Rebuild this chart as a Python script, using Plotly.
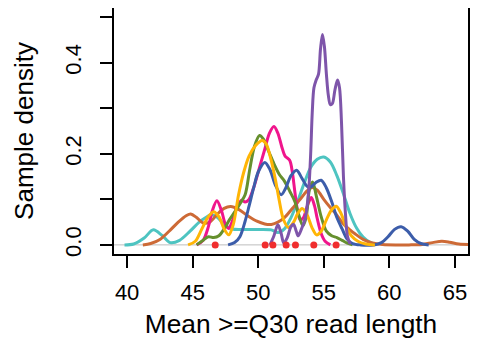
import plotly.graph_objects as go

# ---- data ----
cyan_x = [39.8, 40.5, 41.3, 42.0, 42.7, 43.3, 44.0, 44.8, 45.5, 46.0, 46.4, 46.9, 47.4, 48.0, 49.0, 50.0, 51.0, 51.5, 52.0, 52.5, 53.0, 53.5, 54.0, 54.5, 55.0, 55.5, 56.0, 56.5, 57.0, 57.5, 58.0, 58.5, 59.0]
cyan_y = [0.0, 0.002, 0.015, 0.033, 0.02, 0.005, 0.01, 0.03, 0.05, 0.06, 0.066, 0.06, 0.045, 0.035, 0.034, 0.034, 0.033, 0.027, 0.035, 0.06, 0.095, 0.135, 0.17, 0.188, 0.193, 0.182, 0.152, 0.112, 0.069, 0.037, 0.017, 0.006, 0.001]

brown_x = [41.2, 41.8, 42.5, 43.2, 43.9, 44.5, 44.85, 45.3, 45.8, 46.3, 46.9, 47.4, 47.9, 48.5, 49.2, 49.9, 50.5, 51.0, 51.5, 52.0, 52.6, 53.2, 53.7, 54.1, 54.5, 55.0, 55.5, 55.9, 56.5, 57.0, 57.4, 58.0, 58.7, 59.5, 60.5, 61.5, 62.5, 63.3, 64.0, 64.6, 65.3, 66.2]
brown_y = [0.0, 0.003, 0.012, 0.03, 0.05, 0.064, 0.068, 0.06, 0.048, 0.05, 0.068, 0.08, 0.084, 0.078, 0.064, 0.052, 0.046, 0.045, 0.05, 0.06, 0.08, 0.1, 0.118, 0.126, 0.12, 0.1, 0.082, 0.069, 0.046, 0.033, 0.024, 0.012, 0.004, 0.001, 0.0, 0.0, 0.001, 0.005, 0.008, 0.006, 0.002, 0.001]

pink_x = [45.3, 45.8, 46.2, 46.5, 46.85, 47.2, 47.5, 47.75, 48.0, 48.4, 48.75, 49.0, 49.3, 49.7, 50.1, 50.5, 50.85, 51.2, 51.5, 51.8, 52.05, 52.4, 52.6, 52.8, 53.0, 53.2, 53.45, 53.8, 54.05, 54.3, 54.5, 54.8, 55.1, 55.5]
pink_y = [0.0, 0.01, 0.04, 0.075, 0.097, 0.075, 0.045, 0.036, 0.05, 0.085, 0.098, 0.094, 0.1, 0.13, 0.17, 0.21, 0.245, 0.26, 0.245, 0.215, 0.195, 0.186, 0.16, 0.115, 0.075, 0.055, 0.06, 0.09, 0.104, 0.085, 0.058, 0.025, 0.008, 0.0]

green_x = [45.3, 45.8, 46.2, 46.6, 47.0, 47.4, 47.8, 48.2, 48.6, 49.0, 49.35, 49.7, 50.1, 50.4, 50.8, 51.2, 51.6, 52.0, 52.4, 52.8, 53.1, 53.4, 53.65, 53.9, 54.15, 54.45, 54.8, 55.2, 55.6, 56.0, 56.4, 56.8, 57.2]
green_y = [0.0, 0.01, 0.018, 0.016, 0.02, 0.035, 0.055, 0.072, 0.09, 0.11, 0.165, 0.215, 0.24, 0.232, 0.205, 0.178, 0.155, 0.14, 0.118, 0.095, 0.065, 0.042, 0.06, 0.12, 0.138, 0.105, 0.062, 0.03, 0.02, 0.016, 0.01, 0.004, 0.0]

yellow_x = [44.65, 45.2, 45.7, 46.2, 46.6, 47.0, 47.4, 47.75, 48.1, 48.5, 48.9, 49.3, 49.8, 50.3, 50.6, 50.95, 51.3, 51.6, 51.9, 52.3, 52.7, 53.0, 53.35, 53.7, 54.1, 54.45, 54.8, 55.2, 55.6, 55.95, 56.3, 56.7, 57.1, 57.6, 58.2, 58.9]
yellow_y = [0.0, 0.008, 0.035, 0.062, 0.073, 0.062, 0.035, 0.022, 0.045, 0.11, 0.16, 0.195, 0.218, 0.229, 0.222, 0.19, 0.145, 0.098, 0.058, 0.038, 0.05, 0.068, 0.08, 0.068, 0.038, 0.022, 0.03, 0.055, 0.077, 0.085, 0.07, 0.04, 0.02, 0.008, 0.002, 0.0]

blue_x = [47.7, 48.2, 48.6, 49.0, 49.3, 49.65, 50.0, 50.5, 50.9, 51.3, 51.75, 52.1, 52.5, 52.93, 53.3, 53.75, 54.0, 54.4, 54.8, 55.2, 55.6, 56.0, 56.4, 56.8, 57.2, 57.8, 58.8, 59.4, 59.9, 60.4, 60.9, 61.4, 61.9, 62.4, 63.0]
blue_y = [0.0, 0.005, 0.018, 0.052, 0.085, 0.125, 0.16, 0.181, 0.165, 0.132, 0.11, 0.125, 0.152, 0.164, 0.148, 0.128, 0.127, 0.137, 0.142, 0.125, 0.095, 0.06, 0.035, 0.012, 0.003, 0.0, 0.0, 0.005, 0.018, 0.034, 0.04, 0.03, 0.012, 0.003, 0.0]

purple_x = [50.9, 51.2, 51.5, 51.75, 51.95, 52.2, 52.5, 52.7, 52.9, 53.05, 53.3, 53.6, 53.85, 54.0, 54.12, 54.25, 54.42, 54.6, 54.75, 54.9, 55.05, 55.2, 55.35, 55.5, 55.65, 55.85, 56.05, 56.2, 56.35, 56.5, 56.65, 56.8, 57.0]
purple_y = [0.0, 0.02, 0.044, 0.025, 0.004, 0.015, 0.04, 0.045, 0.03, 0.02, 0.035, 0.06, 0.12, 0.2, 0.29, 0.345, 0.362, 0.375, 0.43, 0.462, 0.435, 0.375, 0.328, 0.308, 0.31, 0.34, 0.362, 0.345, 0.27, 0.15, 0.07, 0.02, 0.002]

means_x = [46.72, 50.53, 51.12, 52.13, 52.84, 54.24, 55.94]

x_ticks = [40, 45, 50, 55, 60, 65]
y_ticks = [0.0, 0.1, 0.2, 0.3, 0.4, 0.5]
y_ticklabels = ["0.0", "", "0.2", "", "0.4", ""]

series = [
    (cyan_x, cyan_y, "#4EC4C1"),
    (brown_x, brown_y, "#CD6A36"),
    (pink_x, pink_y, "#F0158C"),
    (green_x, green_y, "#66902E"),
    (blue_x, blue_y, "#3C5DAA"),
    (yellow_x, yellow_y, "#FFB505"),
    (purple_x, purple_y, "#7E55AA"),
]

fig = go.Figure()
# baseline at zero
fig.add_trace(go.Scatter(x=[39.0, 66.0], y=[0, 0], mode="lines",
                         line=dict(color="#BEBEBE", width=1), showlegend=False, hoverinfo="skip"))
for xs, ys, col in series:
    fig.add_trace(go.Scatter(x=xs, y=ys, mode="lines",
                             line=dict(color=col, width=3, shape="spline", smoothing=0.9),
                             showlegend=False))
fig.add_trace(go.Scatter(x=means_x, y=[0] * len(means_x), mode="markers",
                         marker=dict(color="#F02E2E", size=7), showlegend=False))

font = "Liberation Sans, Arial, sans-serif"
# the page body adds an 8px offset; margins compensate for it
fig.update_layout(
    width=486, height=354,
    margin=dict(l=106, r=26, t=0, b=108, autoexpand=False),
    paper_bgcolor="white", plot_bgcolor="white",
    font=dict(family=font, color="black"),
    xaxis=dict(range=[39.0, 66.0], tickvals=x_ticks, ticks="outside", ticklen=12, tickwidth=1.5,
               tickcolor="black", showline=True, linecolor="black", linewidth=2, mirror=True,
               showgrid=False, zeroline=False, tickfont=dict(size=22), automargin=False,
               ticklabelstandoff=6,
               title=dict(text="Mean >=Q30 read length", font=dict(size=26.3), standoff=10)),
    yaxis=dict(range=[-0.02, 0.52], tickvals=y_ticks, ticktext=y_ticklabels, ticks="outside",
               ticklen=12, tickwidth=1.5, tickcolor="black", showline=True, linecolor="black",
               linewidth=2, mirror=True, showgrid=False, zeroline=False, tickangle=-90,
               tickfont=dict(size=22), ticklabelstandoff=10, automargin=False,
               title=dict(text="Sample density", font=dict(size=26), standoff=20)),
)
fig.write_html("out.html")
